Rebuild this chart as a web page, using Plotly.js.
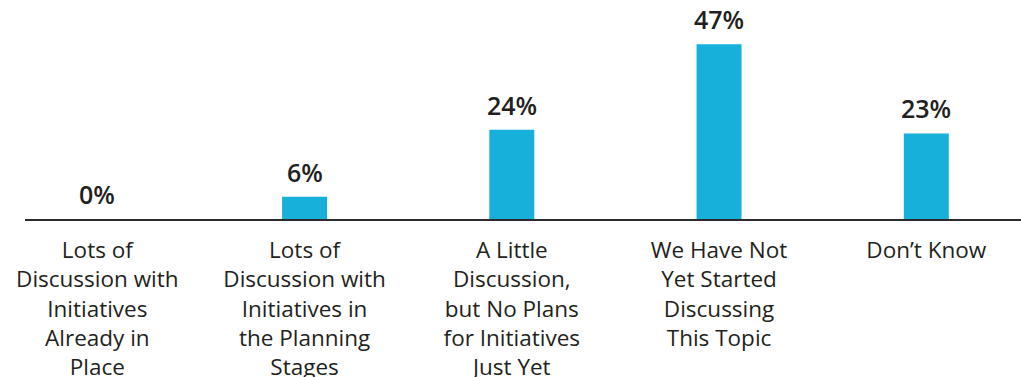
<!DOCTYPE html>
<html>
<head>
<meta charset="utf-8">
<script src="https://cdn.plot.ly/plotly-3.0.1.min.js"></script>
<style>html,body{margin:0;padding:0;background:#fff;}#chart{width:1021px;height:377px;}</style>
</head>
<body>
<div id="chart"></div>
<script>
const categories = ["c0","c1","c2","c3","c4"];
const tickLabels = [
  "Lots of<br>Discussion with<br>Initiatives<br>Already in<br>Place",
  "Lots of<br>Discussion with<br>Initiatives in<br>the Planning<br>Stages",
  "A Little<br>Discussion,<br>but No Plans<br>for Initiatives<br>Just Yet",
  "We Have Not<br>Yet Started<br>Discussing<br>This Topic",
  "Don’t Know"
];
const values = [0, 6, 24, 47, 23];
const valueLabels = values.map(v => v + "%");

const textColor = "#231f20";
const fontFamily = "'Open Sans', Lato, sans-serif";

const trace = {
  type: "bar",
  x: [0,1,2,3,4],
  y: values,
  width: 0.217,
  marker: {color: "#17b0da"},
  hoverinfo: "none"
};

const annotations = values.map((v, i) => ({
  x: i, y: v, xref: "x", yref: "y",
  text: valueLabels[i],
  showarrow: false,
  yanchor: "bottom",
  yshift: 6,
  font: {family: fontFamily, size: 25, color: textColor, weight: 600}
}));

const layout = {
  width: 1021, height: 377,
  margin: {l: 25, r: 0, t: 10, b: 158},
  paper_bgcolor: "#fff", plot_bgcolor: "#fff",
  showlegend: false,
  xaxis: {
    range: [-0.349, 4.457],
    tickmode: "array",
    tickvals: [0,1,2,3,4],
    ticktext: tickLabels,
    showline: true, linecolor: "#2b2b2b", linewidth: 2,
    showgrid: false, zeroline: false, ticks: "",
    tickfont: {family: fontFamily, size: 22.5, color: textColor},
    ticklabelstandoff: 10,
    fixedrange: true
  },
  yaxis: {
    range: [0, 56.2],
    visible: false, showgrid: false, zeroline: false,
    fixedrange: true
  },
  annotations: annotations
};

Plotly.newPlot("chart", [trace], layout, {displayModeBar: false, staticPlot: true});
</script>
</body>
</html>
